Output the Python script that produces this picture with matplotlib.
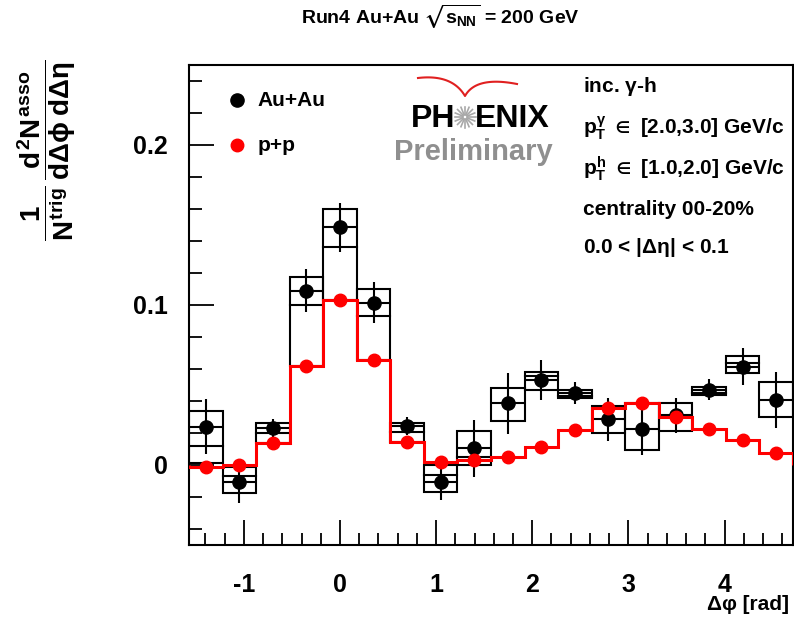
import numpy as np
import matplotlib
matplotlib.use("Agg")
import matplotlib.pyplot as plt
from matplotlib.patches import Rectangle
from matplotlib.lines import Line2D
from matplotlib.ticker import MultipleLocator

plt.rcParams['font.family'] = ['Liberation Sans', 'DejaVu Sans']
plt.rcParams['font.weight'] = 'bold'
plt.rcParams['mathtext.fontset'] = 'custom'
plt.rcParams['mathtext.rm'] = 'Liberation Sans:bold'
plt.rcParams['mathtext.it'] = 'Liberation Sans:bold'
plt.rcParams['mathtext.bf'] = 'Liberation Sans:bold'
plt.rcParams['mathtext.sf'] = 'Liberation Sans:bold'
plt.rcParams['mathtext.fallback'] = 'stixsans'

# ---- data (18 bins of width pi/9 from -pi/2 to 3pi/2) ----
n_bins = 18
au_y = [0.024, -0.0105, 0.023, 0.109, 0.1485, 0.1015, 0.0244, -0.0105, 0.0104,
        0.0385, 0.053, 0.045, 0.0285, 0.0226, 0.031, 0.047, 0.0615, 0.0406]
au_err = [0.017, 0.013, 0.0055, 0.0135, 0.0153, 0.013, 0.0055, 0.0115, 0.018,
          0.019, 0.0125, 0.0067, 0.0134, 0.0166, 0.0108, 0.0065, 0.0115, 0.0177]
box_hi = [0.0338, -0.0015, 0.026, 0.1177, 0.160, 0.110, 0.0265, 0.0, 0.0215,
          0.0483, 0.0583, 0.047, 0.037, 0.0385, 0.0385, 0.0488, 0.068, 0.052]
box_mid = [0.012, -0.0069, 0.0198, 0.100, 0.136, 0.093, 0.0208, -0.006, 0.005,
           np.nan, 0.0556, 0.0431, np.nan, np.nan, np.nan, 0.0452, 0.0636, np.nan]
box_lo = [0.001, -0.0173, 0.0135, 0.062, 0.103, 0.0656, 0.0146, -0.0167, 0.0003,
          0.0275, 0.0469, 0.0417, 0.0198, 0.0094, 0.0214, 0.044, 0.0573, 0.0298]
pp_y = [-0.001, 0.0, 0.0135, 0.062, 0.103, 0.0656, 0.0146, 0.002, 0.003,
        0.005, 0.0115, 0.0219, 0.0354, 0.0385, 0.030, 0.0223, 0.0156, 0.0073]

labels = ['Au+Au', 'p+p']
title = r'Run4 Au+Au $\sqrt{s_{NN}}$ = 200 GeV'
info = ['inc. $\\gamma$-h',
        r'$p_{T}^{\gamma}$ $\in$ [2.0,3.0] GeV/c',
        r'$p_{T}^{h}$ $\in$ [1.0,2.0] GeV/c',
        'centrality 00-20%',
        r'0.0 < |$\Delta\eta$| < 0.1']

edges = np.linspace(-np.pi / 2, 3 * np.pi / 2, n_bins + 1)
centers = 0.5 * (edges[:-1] + edges[1:])
width = edges[1] - edges[0]

W, H = 794, 618
fig = plt.figure(figsize=(W / 100, H / 100), dpi=100)
ax = fig.add_axes([189 / W, 73 / H, 604 / W, 480 / H])

# systematic boxes
for i in range(n_bins):
    ax.add_patch(Rectangle((edges[i], box_lo[i]), width, box_hi[i] - box_lo[i],
                           fill=False, edgecolor='black', lw=1.5, zorder=2))
    if not np.isnan(box_mid[i]):
        ax.plot([edges[i], edges[i + 1]], [box_mid[i], box_mid[i]],
                color='black', lw=1.5, zorder=2)

ax.errorbar(centers, au_y, yerr=au_err, xerr=width / 2, fmt='o', color='black',
            ms=9.5, elinewidth=1.5, capsize=0, zorder=3)
ax.stairs(pp_y, edges, color='red', lw=2.2, zorder=4)
ax.plot(centers, pp_y, 'o', color='red', ms=9, zorder=5)

ax.set_xlim(-np.pi / 2, 3 * np.pi / 2)
ax.set_ylim(-0.05, 0.25)
ax.xaxis.set_major_locator(MultipleLocator(1))
ax.xaxis.set_minor_locator(MultipleLocator(0.2))
ax.yaxis.set_major_locator(MultipleLocator(0.1))
ax.yaxis.set_minor_locator(MultipleLocator(0.02))
ax.set_yticks([0, 0.1, 0.2])
ax.set_yticklabels(['0', '0.1', '0.2'])
ax.set_xticks([-1, 0, 1, 2, 3, 4])
ax.set_xticklabels(['-1', '0', '1', '2', '3', '4'])
ax.tick_params(which='major', direction='in', length=18, width=1.3, labelsize=18,
               top=False, right=False)
ax.tick_params(axis='x', which='major', pad=20)
ax.tick_params(axis='y', which='major', pad=15)
ax.tick_params(which='minor', direction='in', length=9, width=1.3, top=False, right=False)
for s in ax.spines.values():
    s.set_linewidth(1.5)

# legend
ax.plot([0.0795], [0.927], 'o', color='black', ms=9.5, transform=ax.transAxes, clip_on=False)
ax.plot([0.0795], [0.833], 'o', color='red', ms=9, transform=ax.transAxes, clip_on=False)
ax.text(0.114, 0.927, labels[0], transform=ax.transAxes, fontsize=15, va='center', ha='left')
ax.text(0.114, 0.833, labels[1], transform=ax.transAxes, fontsize=15, va='center', ha='left')

# info text
ys = [0.944, 0.856, 0.771, 0.6875, 0.6083]
for t, yy in zip(info, ys):
    ax.text(0.652, yy, t, transform=ax.transAxes, fontsize=15, va='baseline', ha='left')

# title and axis labels
fig.text(440 / W, 1 - 17 / H, title, ha='center', va='center', fontsize=14)
fig.text(789 / W, 1 - 605 / H, 'Δφ [rad]', ha='right', va='center', fontsize=15)
fig.text(47 / W, 1 - 150 / H,
         r'$\dfrac{1}{N^{trig}}\,\dfrac{d^{2}N^{asso}}{d\Delta\phi\;d\Delta\eta}$',
         rotation=90, ha='center', va='center', fontsize=20)

# PHENIX preliminary logo
def px(x, y):
    return x / W, 1 - y / H

fig.text(*px(455, 127), 'PH', ha='right', va='baseline', fontsize=23, color='black')
fig.text(*px(475, 127), 'ENIX', ha='left', va='baseline', fontsize=23, color='black')
cx, cy = 465, 117
for a in np.linspace(0, 2 * np.pi, 16, endpoint=False):
    x0, y0 = px(cx + 2.5 * np.cos(a), cy + 2.5 * np.sin(a))
    x1, y1 = px(cx + 10.5 * np.cos(a), cy + 10.5 * np.sin(a))
    fig.add_artist(Line2D([x0, x1], [y0, y1], color='#a8a8a8', lw=1.2))
tt = np.linspace(0, 1, 30)
lx = (1 - tt) ** 2 * 418 + 2 * (1 - tt) * tt * 452 + tt ** 2 * 465
ly = (1 - tt) ** 2 * 78 + 2 * (1 - tt) * tt * 74 + tt ** 2 * 96
rx = (1 - tt) ** 2 * 465 + 2 * (1 - tt) * tt * 476 + tt ** 2 * 517
ry = (1 - tt) ** 2 * 96 + 2 * (1 - tt) * tt * 76 + tt ** 2 * 84
fig.add_artist(Line2D(np.r_[lx, rx] / W, 1 - np.r_[ly, ry] / H, color='#e02020', lw=1.5))
fig.text(*px(394, 160), 'Preliminary', ha='left', va='baseline', fontsize=21, color='#8f8f8f')

fig.savefig('out.png', dpi=100)
